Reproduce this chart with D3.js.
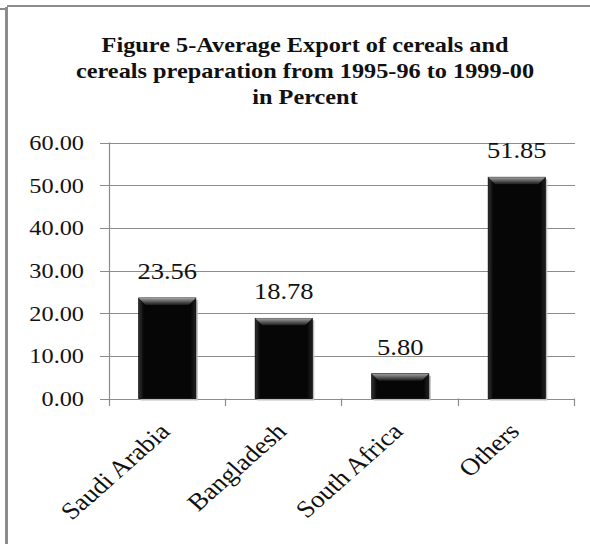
<!DOCTYPE html>
<html>
<head>
<meta charset="utf-8">
<script src="https://cdn.jsdelivr.net/npm/d3@7"></script>
<style>
    body { margin: 0; background: #fff; }
    svg { display: block; }
    text { font-family: "Liberation Serif", "Times New Roman", serif; fill: #111; }
</style>
</head>
<body>
<svg id="chart" width="590" height="544"></svg>
<script>
// Data
let categories = ["Saudi Arabia", "Bangladesh", "South Africa", "Others"];
let values = [23.56, 18.78, 5.80, 51.85];
let yTicks = [0, 10, 20, 30, 40, 50, 60];
let titleLines = [
    "Figure 5-Average Export of cereals and",
    "cereals preparation from 1995-96 to 1999-00",
    "in Percent"
];

let sx = 1.13; // the picture is a little wide, text gets stretched the same way

let svg = d3.select("#chart");

// frame round the chart
svg.append("rect").attr("x", 5).attr("y", 7).attr("width", 3).attr("height", 537).attr("fill", "#8c8c8c");
svg.append("rect").attr("x", 7).attr("y", 5).attr("width", 583).attr("height", 2).attr("fill", "#8c8c8c");
svg.append("rect").attr("x", 0).attr("y", 8).attr("width", 5).attr("height", 2).attr("fill", "#8c8c8c");

// title
titleLines.forEach((t, i) => {
    svg.append("g")
        .attr("transform", `translate(305,${52 + i * 26}) scale(${sx},1)`)
        .append("text")
        .attr("text-anchor", "middle")
        .attr("font-weight", "bold")
        .attr("font-size", 21.5)
        .text(t);
});

let x = d3.scaleBand().domain(categories).range([109, 575]).padding(0);
let y = d3.scaleLinear().domain([0, 60]).range([398.5, 142.5]);

// gridlines
svg.append("g")
    .selectAll("line")
    .data(yTicks)
    .join("line")
    .attr("x1", 100)
    .attr("x2", 575)
    .attr("y1", d => Math.round(y(d)) + 0.5)
    .attr("y2", d => Math.round(y(d)) + 0.5)
    .attr("stroke", "#8c8c8c")
    .attr("stroke-width", 1.2);

// y axis line
svg.append("line")
    .attr("x1", 109.5).attr("x2", 109.5)
    .attr("y1", y(60)).attr("y2", 406)
    .attr("stroke", "#8c8c8c").attr("stroke-width", 1.2);

// x ticks at band edges
let edges = categories.map(c => x(c)).slice(1).concat([575]);
svg.append("g")
    .selectAll("line")
    .data(edges)
    .join("line")
    .attr("x1", d => Math.round(d) - 0.5)
    .attr("x2", d => Math.round(d) - 0.5)
    .attr("y1", y(0))
    .attr("y2", 406)
    .attr("stroke", "#8c8c8c")
    .attr("stroke-width", 1.2);

// y tick labels
svg.append("g")
    .selectAll("g")
    .data(yTicks)
    .join("g")
    .attr("transform", d => `translate(84,${y(d) + 7.5}) scale(${sx},1)`)
    .append("text")
    .attr("text-anchor", "end")
    .attr("font-size", 21.5)
    .text(d => d.toFixed(2));

// bevel gradients for the bars
let defs = svg.append("defs");
let gTop = defs.append("linearGradient").attr("id", "bevTop").attr("x1", 0).attr("y1", 0).attr("x2", 0).attr("y2", 1);
gTop.append("stop").attr("offset", "0%").attr("stop-color", "#a0a0a0");
gTop.append("stop").attr("offset", "100%").attr("stop-color", "#1a1a1a");
let gBody = defs.append("linearGradient").attr("id", "bevBody").attr("x1", 0).attr("y1", 0).attr("x2", 1).attr("y2", 0);
gBody.append("stop").attr("offset", "0%").attr("stop-color", "#333");
gBody.append("stop").attr("offset", "9%").attr("stop-color", "#060606");
gBody.append("stop").attr("offset", "91%").attr("stop-color", "#060606");
gBody.append("stop").attr("offset", "100%").attr("stop-color", "#222");

let barW = x.bandwidth() * 0.49;
let bars = svg.append("g")
    .selectAll("g")
    .data(values)
    .join("g");

// soft shadow
bars.append("rect")
    .attr("x", (d, i) => x.bandwidth() / 2 + x(categories[i]) - barW / 2 + 2)
    .attr("y", d => y(d) + 2)
    .attr("width", barW)
    .attr("height", d => y(0) - y(d))
    .attr("fill", "#bdbdbd");

bars.append("rect")
    .attr("x", (d, i) => x(categories[i]) + x.bandwidth() / 2 - barW / 2)
    .attr("y", d => y(d))
    .attr("width", barW)
    .attr("height", d => y(0) - y(d))
    .attr("fill", "url(#bevBody)")
    .attr("stroke", "#000")
    .attr("stroke-width", 0.8);

bars.append("path")
    .attr("d", (d, i) => {
        let x0 = x(categories[i]) + x.bandwidth() / 2 - barW / 2;
        let y0 = y(d);
        let b = 7;
        return `M${x0},${y0}H${x0 + barW}L${x0 + barW - b},${y0 + b}H${x0 + b}Z`;
    })
    .attr("fill", "url(#bevTop)");

// value labels
bars.append("g")
    .attr("transform", (d, i) => `translate(${x(categories[i]) + x.bandwidth() / 2},${y(d) - 19}) scale(${sx},1)`)
    .append("text")
    .attr("text-anchor", "middle")
    .attr("font-size", 23.5)
    .text(d => d.toFixed(2));

// category labels, slanted
svg.append("g")
    .selectAll("g")
    .data(categories)
    .join("g")
    .attr("transform", d => `translate(${x(d) + x.bandwidth() / 2 + 4},433) scale(${sx},1) rotate(-45)`)
    .append("text")
    .attr("text-anchor", "end")
    .attr("font-size", 24)
    .text(d => d);
</script>
</body>
</html>
